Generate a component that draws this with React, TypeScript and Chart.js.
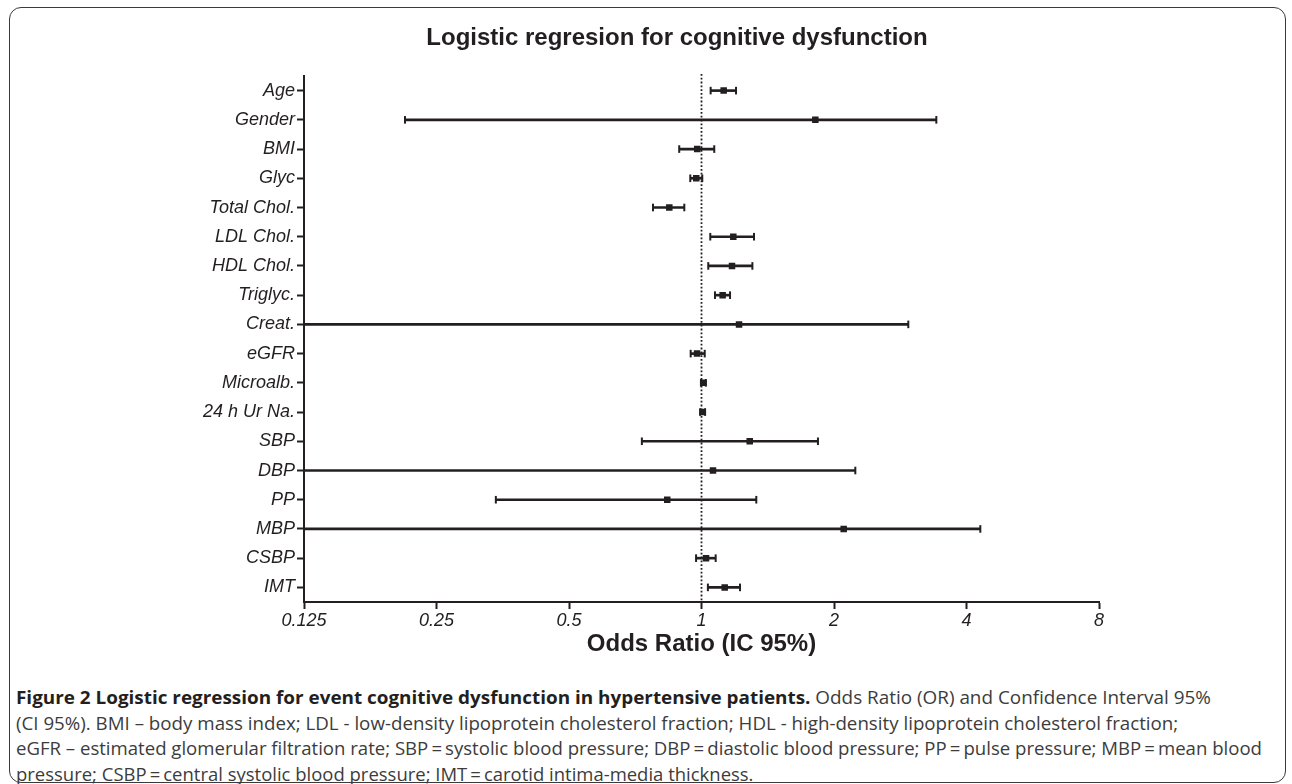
import React, { useEffect, useLayoutEffect, useRef } from 'react';
import { Chart, registerables } from 'chart.js';

Chart.register(...registerables);

// ---------- data ----------
const CATEGORIES = [
  'Age', 'Gender', 'BMI', 'Glyc', 'Total Chol.', 'LDL Chol.', 'HDL Chol.', 'Triglyc.',
  'Creat.', 'eGFR', 'Microalb.', '24 h Ur Na.', 'SBP', 'DBP', 'PP', 'MBP', 'CSBP', 'IMT',
];
const ODDS_RATIO = [1.123, 1.814, 0.978, 0.973, 0.845, 1.181, 1.173, 1.117, 1.217, 0.977, 1.010, 1.006, 1.287, 1.062, 0.836, 2.104, 1.024, 1.129];
const CI_LOWER = [1.049, 0.212, 0.890, 0.943, 0.776, 1.047, 1.036, 1.073, 0.08, 0.945, 0.997, 0.993, 0.732, 0.1, 0.341, 0.09, 0.972, 1.034];
const CI_UPPER = [1.198, 3.416, 1.069, 1.004, 0.914, 1.316, 1.305, 1.161, 2.95, 1.017, 1.023, 1.019, 1.839, 2.236, 1.332, 4.30, 1.077, 1.223];
const X_TICKS = [0.125, 0.25, 0.5, 1, 2, 4, 8];
const X_TICK_LABELS = ['0.125', '0.25', '0.5', '1', '2', '4', '8'];
const REFERENCE_OR = 1;

const TITLE = 'Logistic regresion for cognitive dysfunction';
const X_TITLE = 'Odds Ratio (IC 95%)';

const CAPTION_BOLD = 'Figure 2 Logistic regression for event cognitive dysfunction in hypertensive patients.';
const CAPTION_LINES = [
  ' Odds Ratio (OR) and Confidence Interval 95%',
  '(CI 95%). BMI \u2013 body mass index; LDL - low-density lipoprotein cholesterol fraction; HDL - high-density lipoprotein cholesterol fraction;',
  'eGFR \u2013 estimated glomerular filtration rate; SBP\u2009=\u2009systolic blood pressure; DBP\u2009=\u2009diastolic blood pressure; PP\u2009=\u2009pulse pressure; MBP\u2009=\u2009mean blood',
  'pressure; CSBP\u2009=\u2009central systolic blood pressure; IMT\u2009=\u2009carotid intima-media thickness.',
];

// ---------- styles ----------
const INK = '#231f20';
const FONT = "'Liberation Sans', Arial, Helvetica, sans-serif";
const CAPTION_FONT = "'Open Sans', 'Noto Sans', sans-serif";
const CAPTION_TARGET_WIDTHS = [1195, 1162, 1246, 737];
const TITLE_CENTER_X = 677;

const refLinePlugin = {
  id: 'refLine',
  afterLayout(chart: any) {
    const tb = chart.titleBlock;
    if (tb) {
      const w = tb.right - tb.left;
      tb.left = TITLE_CENTER_X - w / 2;
      tb.right = TITLE_CENTER_X + w / 2;
    }
  },
  beforeDatasetsDraw(chart: any) {
    const { ctx, chartArea, scales } = chart;
    const x = scales.x.getPixelForValue(REFERENCE_OR);
    ctx.save();
    ctx.strokeStyle = INK;
    ctx.lineWidth = 1.8;
    ctx.setLineDash([1.8, 2]);
    ctx.beginPath();
    ctx.moveTo(x, chartArea.top - 2);
    ctx.lineTo(x, chartArea.bottom);
    ctx.stroke();
    ctx.restore();
  },
};

export default function App() {
  const canvasRef = useRef<HTMLCanvasElement | null>(null);
  const lineRefs = useRef<(HTMLSpanElement | null)[]>([]);

  useEffect(() => {
    const canvas = canvasRef.current;
    if (!canvas) return;
    const xMin = X_TICKS[0];
    const caps: { x: number; y: string }[] = [];
    CATEGORIES.forEach((c, i) => {
      if (CI_LOWER[i] >= xMin) caps.push({ x: CI_LOWER[i], y: c });
      caps.push({ x: CI_UPPER[i], y: c });
    });
    const chart = new Chart(canvas, {
      type: 'bar',
      data: {
        labels: CATEGORIES,
        datasets: [
          {
            type: 'bar',
            data: CATEGORIES.map((_, i) => [CI_LOWER[i], CI_UPPER[i]]),
            backgroundColor: INK,
            borderWidth: 0,
            barThickness: 2,
            clip: 0,
            order: 3,
          } as any,
          {
            type: 'scatter',
            data: caps,
            pointStyle: 'line',
            pointRotation: 90,
            pointRadius: 3.8,
            pointBorderWidth: 2,
            pointBorderColor: INK,
            order: 2,
          } as any,
          {
            type: 'scatter',
            data: CATEGORIES.map((c, i) => ({ x: ODDS_RATIO[i], y: c })),
            pointStyle: 'rect',
            pointRadius: 4.6,
            pointBorderWidth: 0,
            pointBackgroundColor: INK,
            order: 1,
          } as any,
        ],
      },
      options: {
        animation: false,
        responsive: false,
        devicePixelRatio: 1,
        indexAxis: 'y',
        events: [],
        layout: { padding: { left: 180, right: 193, top: 11, bottom: 18 } },
        plugins: {
          legend: { display: false },
          tooltip: { enabled: false },
          title: {
            display: true,
            text: TITLE,
            color: INK,
            font: { family: FONT, size: 24, weight: 'bold' },
            padding: { top: 13.4, bottom: 22.8 },
          },
        },
        scales: {
          x: {
            type: 'logarithmic',
            position: 'bottom',
            min: X_TICKS[0],
            max: X_TICKS[X_TICKS.length - 1],
            beginAtZero: false,
            afterBuildTicks: (scale: any) => {
              scale.ticks = X_TICKS.map((v) => ({ value: v }));
            },
            afterFit: (scale: any) => {
              scale.height = 60;
            },
            ticks: {
              autoSkip: false,
              maxRotation: 0,
              padding: 1,
              color: INK,
              font: { family: FONT, size: 18, style: 'italic' },
              callback: (_v: any, index: number) => X_TICK_LABELS[index],
            },
            grid: { drawOnChartArea: false, drawTicks: true, tickLength: 7, tickWidth: 2, tickColor: INK },
            border: { display: true, color: INK, width: 2 },
            title: {
              display: true,
              text: X_TITLE,
              color: INK,
              font: { family: FONT, size: 24, weight: 'bold' },
              padding: { top: 0, bottom: 3 },
            },
          } as any,
          y: {
            type: 'category',
            offset: true,
            afterFit: (scale: any) => {
              scale.width = 124;
            },
            ticks: {
              autoSkip: false,
              padding: 2,
              color: INK,
              font: { family: FONT, size: 18, style: 'italic' },
            },
            grid: { offset: false, drawOnChartArea: false, drawTicks: true, tickLength: 7, tickWidth: 2, tickColor: INK },
            border: { display: true, color: INK, width: 2 },
          } as any,
        },
      } as any,
      plugins: [refLinePlugin],
    });
    return () => chart.destroy();
  }, []);

  useLayoutEffect(() => {
    lineRefs.current.forEach((el, i) => {
      if (!el) return;
      el.style.transform = 'none';
      const w = el.offsetWidth;
      if (w > 0) el.style.transform = `scaleX(${CAPTION_TARGET_WIDTHS[i] / w})`;
    });
  }, []);

  return (
    <div style={{ position: 'absolute', left: 0, top: 0, width: 1292, height: 784, overflow: 'hidden', background: '#fff' }}>
      <div
        style={{
          position: 'absolute', left: 9, top: 7, width: 1277, height: 776,
          border: '1.5px solid #3a3a3a', borderRadius: 12, boxSizing: 'border-box',
        }}
      />
      <canvas ref={canvasRef} width={1292} height={680} style={{ position: 'absolute', left: 0, top: 0, width: 1292, height: 680 }} />
      <div style={{ position: 'absolute', left: 16, top: 685, fontFamily: CAPTION_FONT, fontSize: 18, lineHeight: '25.5px', color: '#3c3c3c' }}>
        {CAPTION_LINES.map((line, i) => (
          <div key={i} style={{ whiteSpace: 'nowrap', height: 25.5 }}>
            <span
              ref={(el) => { lineRefs.current[i] = el; }}
              style={{ display: 'inline-block', transformOrigin: '0 50%', whiteSpace: 'pre' }}
            >
              {i === 0 && <span style={{ fontWeight: 700, color: INK }}>{CAPTION_BOLD}</span>}
              {line}
            </span>
          </div>
        ))}
      </div>
    </div>
  );
}
